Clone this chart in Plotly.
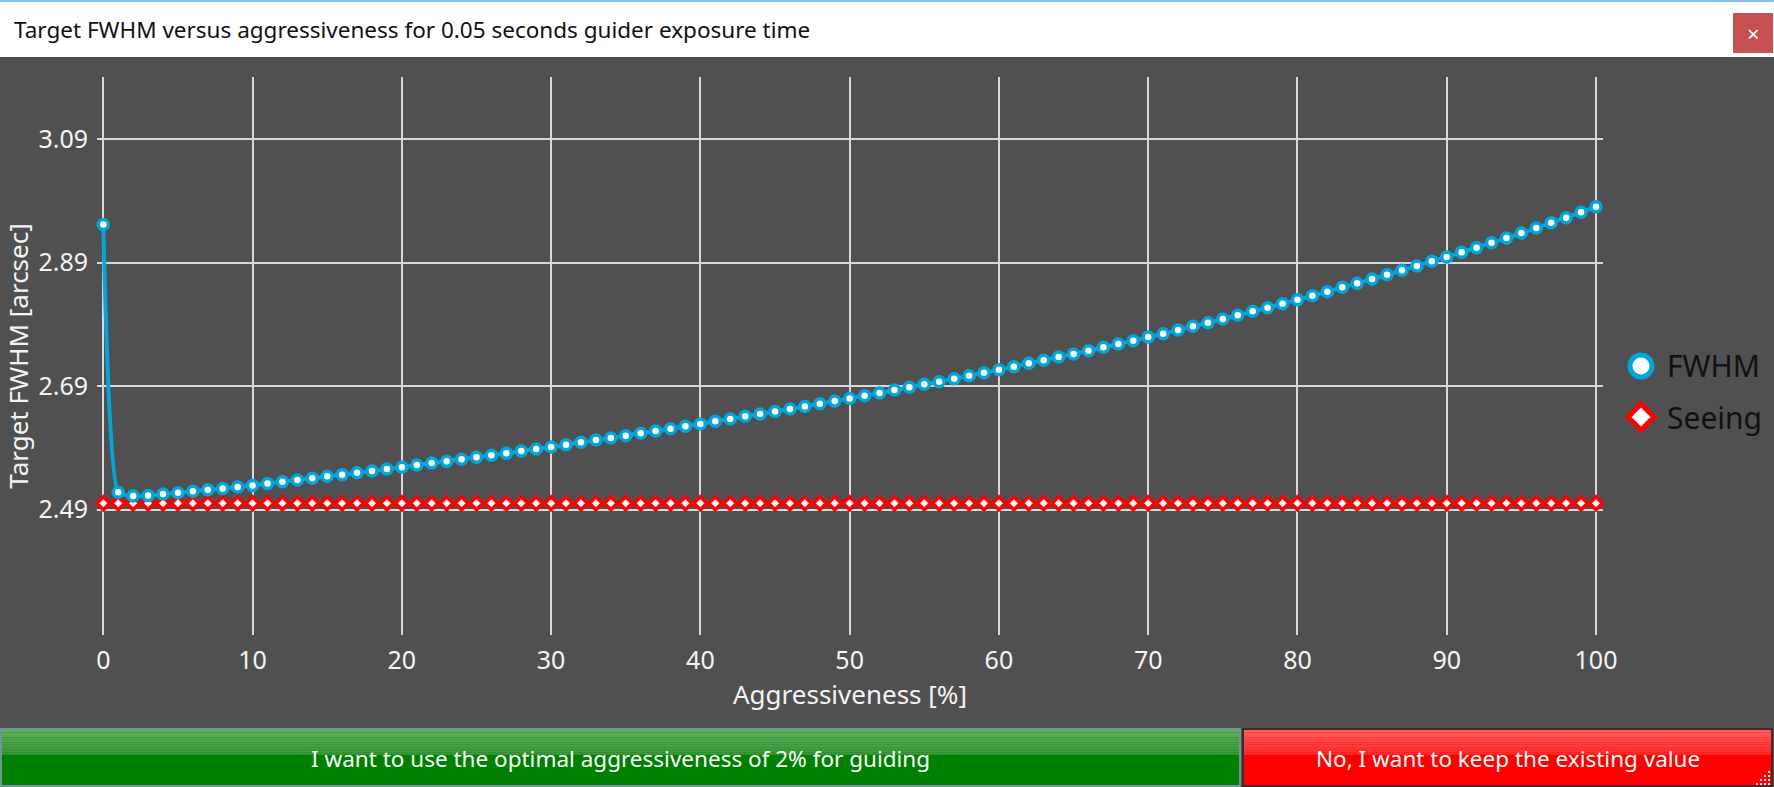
import plotly.graph_objects as go

W, H = 1774, 787

window_title = "Target FWHM versus aggressiveness for 0.05 seconds guider exposure time"
x_title = "Aggressiveness [%]"
y_title = "Target FWHM [arcsec]"
btn_ok_text = "I want to use the optimal aggressiveness of 2% for guiding"
btn_no_text = "No, I want to keep the existing value"

aggressiveness = list(range(0, 101))
fwhm = [
    2.952, 2.518, 2.512, 2.5125, 2.515, 2.517, 2.5195, 2.522, 2.524, 2.5265,
    2.529, 2.532, 2.535, 2.538, 2.5405, 2.544, 2.5465, 2.5495, 2.5525, 2.5555,
    2.5585, 2.562, 2.5652, 2.568, 2.5714, 2.5746, 2.578, 2.581, 2.5848, 2.588,
    2.5913, 2.595, 2.599, 2.6026, 2.606, 2.6096, 2.6135, 2.6172, 2.621, 2.625,
    2.6286, 2.633, 2.6367, 2.641, 2.6448, 2.649, 2.653, 2.657, 2.6615, 2.6658,
    2.670, 2.6744, 2.6788, 2.6837, 2.688, 2.693, 2.6971, 2.702, 2.7069, 2.7117,
    2.7166, 2.7214, 2.727, 2.7318, 2.7372, 2.742, 2.7474, 2.7529, 2.7582, 2.7636,
    2.7696, 2.7749, 2.7809, 2.7869, 2.7928, 2.7988, 2.8047, 2.8112, 2.817, 2.8235,
    2.830, 2.8365, 2.843, 2.8501, 2.8566, 2.8636, 2.8705, 2.8777, 2.8847, 2.8923,
    2.8992, 2.9069, 2.9143, 2.9224, 2.930, 2.9381, 2.9462, 2.9548, 2.9629, 2.9717,
    2.9808,
]
seeing = [2.50] * 101

x_ticks = list(range(0, 101, 10))
y_ticks = [2.49, 2.69, 2.89, 3.09]
y_ticktext = ["2.49", "2.69", "2.89", "3.09"]

FONT = "Segoe UI, Noto Sans, Open Sans, sans-serif"
BG = "#505050"
BLUE = "#00a6dc"
RED = "#ff0000"
GRID = "#d8d8d8"

# plot area in pixels
PL, PR, PT, PB = 97, 1603, 77, 635


def px(x):
    return x / W


def py(y):
    return 1 - y / H


fig = go.Figure()
fig.add_trace(go.Scatter(
    x=aggressiveness, y=seeing, name="Seeing", mode="lines+markers",
    line=dict(color=RED, width=4.5),
    marker=dict(symbol="diamond", size=10, color="white", line=dict(color=RED, width=3.5)),
    showlegend=False, cliponaxis=False,
))
fig.add_trace(go.Scatter(
    x=aggressiveness, y=fwhm, name="FWHM", mode="lines+markers",
    line=dict(color=BLUE, width=4, shape="spline", smoothing=0.5),
    marker=dict(symbol="circle", size=10, color="white", line=dict(color=BLUE, width=3.5)),
    showlegend=False, cliponaxis=False,
))

shapes = []
annotations = []

# window title bar
shapes.append(dict(type="rect", xref="paper", yref="paper", x0=0, x1=1, y0=py(57), y1=1,
                   fillcolor="white", line=dict(width=0), layer="above"))
shapes.append(dict(type="rect", xref="paper", yref="paper", x0=0, x1=1, y0=py(2), y1=1,
                   fillcolor="#86bdf2", line=dict(width=0), layer="above"))
annotations.append(dict(text=window_title, xref="paper", yref="paper", x=px(12), y=py(29),
                        xanchor="left", yanchor="middle", showarrow=False,
                        font=dict(family=FONT, size=22.5, color="#111111")))
# close button
shapes.append(dict(type="rect", xref="paper", yref="paper", x0=px(1733), x1=px(1773),
                   y0=py(53), y1=py(13), fillcolor="#c75050", line=dict(width=0), layer="above"))
annotations.append(dict(text="×", xref="paper", yref="paper", x=px(1753), y=py(33),
                        xanchor="center", yanchor="middle", showarrow=False,
                        font=dict(family=FONT, size=22, color="white")))

# custom legend
lx = 1641
shapes.append(dict(type="circle", xref="paper", yref="paper",
                   x0=px(lx - 11), x1=px(lx + 11), y0=py(366 + 11), y1=py(366 - 11),
                   fillcolor="white", line=dict(color=BLUE, width=5), layer="above"))
d = 13
shapes.append(dict(type="path", xref="paper", yref="paper",
                   path=f"M {px(lx)} {py(417 - d)} L {px(lx + d)} {py(417)} L {px(lx)} {py(417 + d)} L {px(lx - d)} {py(417)} Z",
                   fillcolor="white", line=dict(color=RED, width=5), layer="above"))
annotations.append(dict(text="FWHM", xref="paper", yref="paper", x=px(1665), y=py(366),
                        xanchor="left", yanchor="middle", showarrow=False,
                        font=dict(family=FONT, size=30, color="#111111")))
annotations.append(dict(text="Seeing", xref="paper", yref="paper", x=px(1665), y=py(417),
                        xanchor="left", yanchor="middle", showarrow=False,
                        font=dict(family=FONT, size=30, color="#111111")))


# buttons with gradient
def lerp(c1, c2, t):
    a = [int(c1[i:i + 2], 16) for i in (1, 3, 5)]
    b = [int(c2[i:i + 2], 16) for i in (1, 3, 5)]
    return "#" + "".join(f"{round(a[i] + (b[i] - a[i]) * t):02x}" for i in range(3))


def button(x0, x1, y0, y1, top, mid, bottom, border, text):
    ymid = y0 + (y1 - y0) * 0.45
    shapes.append(dict(type="rect", xref="paper", yref="paper", x0=px(x0), x1=px(x1),
                       y0=py(y1), y1=py(y0), fillcolor=bottom,
                       line=dict(color=border, width=1.5), layer="above"))
    n = 10
    for i in range(n):
        ya = y0 + 1 + (ymid - y0 - 1) * i / n
        yb = y0 + 1 + (ymid - y0 - 1) * (i + 1) / n
        shapes.append(dict(type="rect", xref="paper", yref="paper", x0=px(x0 + 1), x1=px(x1 - 1),
                           y0=py(yb), y1=py(ya), fillcolor=lerp(top, mid, i / (n - 1)),
                           line=dict(width=0), layer="above"))
    annotations.append(dict(text=text, xref="paper", yref="paper", x=px((x0 + x1) / 2),
                            y=py((y0 + y1) / 2 + 1), xanchor="center", yanchor="middle",
                            showarrow=False, font=dict(family=FONT, size=22.5, color="white")))


button(1, 1240, 729, 786, "#5cb05c", "#3a973a", "#008000", "#8aa2bc", btn_ok_text)
button(1243, 1772, 729, 786, "#ff5e5e", "#ff2a2a", "#ff0000", "#2a2a2a", btn_no_text)

# resize grip
for i in range(4):
    for j in range(4):
        if i + j >= 3:
            gx = 1756 + i * 4
            gy = 771 + j * 4
            shapes.append(dict(type="rect", xref="paper", yref="paper", x0=px(gx), x1=px(gx + 2),
                               y0=py(gy + 2), y1=py(gy), fillcolor="#f0f0f0",
                               line=dict(width=0), layer="above"))

# x range so that 0 -> 103.3px and 100 -> 1596px
ppu = (1596 - 103.3) / 100
x_range = [-(103.3 - PL) / ppu, 100 + (PR - 1596) / ppu]
# y: 3.09 -> 139.3px, 2.49 -> 509.5px
ppv = (509.5 - 139.3) / 0.6
y_range = [2.49 - (PB - 509.5) / ppv, 3.09 + (139.3 - PT) / ppv]

fig.update_layout(
    width=W, height=H,
    margin=dict(l=0, r=0, t=0, b=0),
    paper_bgcolor=BG, plot_bgcolor=BG,
    font=dict(family=FONT, color="#f4f4f4"),
    showlegend=False,
    xaxis=dict(domain=[px(PL), px(PR)], range=x_range, tickvals=x_ticks,
               showgrid=True, gridcolor=GRID, gridwidth=2, zeroline=False,
               showline=False, ticks="", automargin=False,
               tickfont=dict(family=FONT, size=25, color="#f4f4f4"),
               ticklabelstandoff=8,
               title=dict(text=x_title, font=dict(family=FONT, size=26, color="#f4f4f4"),
                          standoff=2)),
    yaxis=dict(domain=[py(PB), py(PT)], range=y_range, tickvals=y_ticks,
               ticktext=y_ticktext,
               showgrid=True, gridcolor=GRID, gridwidth=2, zeroline=False,
               showline=False, ticks="", automargin=False,
               tickfont=dict(family=FONT, size=25, color="#f4f4f4"),
               ticklabelstandoff=8,
               title=dict(text=y_title, font=dict(family=FONT, size=26, color="#f4f4f4"),
                          standoff=6)),
    shapes=shapes,
    annotations=annotations,
)

fig.write_html("out.html", config={"displayModeBar": False},
               post_script="document.body.style.margin='0';document.body.style.overflow='hidden';")
